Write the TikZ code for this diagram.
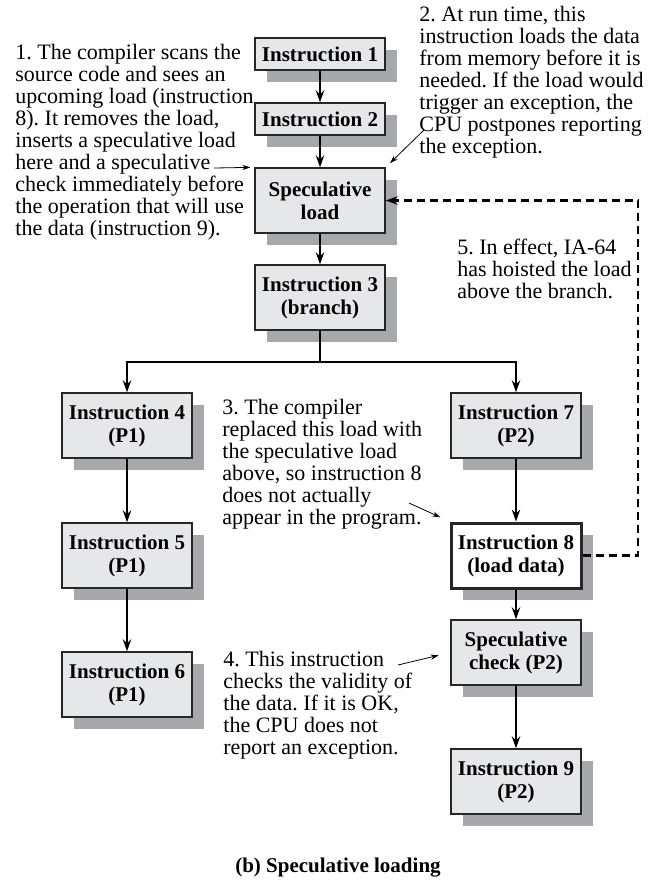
\documentclass[tikz,border=0pt]{standalone}
\usepackage{fontspec}
\setmainfont{Liberation Serif}
\usetikzlibrary{arrows.meta,shadows}
\definecolor{boxfill}{RGB}{230,231,232}
\definecolor{shadowgray}{RGB}{167,168,172}
\lineskiplimit=-10pt
\frenchspacing

\begin{document}
\begin{tikzpicture}[x=0.5pt, y=-0.5pt,
    box/.style = {draw=black!85, fill=boxfill, line width=0.7pt, minimum width=65pt,
        minimum height=16pt, inner sep=1pt, align=center,
        font=\fontsize{10.5}{11.5}\selectfont\bfseries,
        drop shadow={shadow xshift=6pt, shadow yshift=-6pt, fill=shadowgray, opacity=1}},
    tall/.style = {box, minimum height=32.5pt},
    note/.style = {anchor=north west, inner sep=0pt, align=left,
        font=\fontsize{11}{11}\selectfont},
    flow/.style = {line width=0.9pt, -{Stealth[length=6pt, width=4.2pt]}},
    hint/.style = {line width=0.4pt, -{Stealth[length=4pt, width=2.6pt]}},
    hoist/.style = {line width=1.1pt, dash pattern=on 4pt off 2.5pt, -{Stealth[length=6pt, width=4.2pt]}}]
    \useasboundingbox (0,0) rectangle (654,880);

    % main column
    \node[box] (1) at (320,54) {Instruction 1};
    \node[box] (2) [below of=1, node distance=32.5pt] {Instruction 2};
    \node[tall] (load) [below of=2, node distance=40.75pt] {Speculative\\load};
    \node[tall] (3) [below of=load, node distance=48.5pt] {Instruction 3\\(branch)};

    % path P1
    \node[tall] (4) at (127,425.5) {Instruction 4\\(P1)};
    \node[tall] (5) [below of=4, node distance=65pt] {Instruction 5\\(P1)};
    \node[tall] (6) [below of=5, node distance=64.5pt] {Instruction 6\\(P1)};

    % path P2
    \node[tall] (7) [right of=4, node distance=194.5pt] {Instruction 7\\(P2)};
    \node[tall, fill=white, line width=1.5pt] (8) [below of=7, node distance=65pt] {Instruction 8\\(load data)};
    \node[tall] (check) [below of=8, node distance=48.5pt] {Speculative\\check (P2)};
    \node[tall] (9) [below of=check, node distance=64.5pt] {Instruction 9\\(P2)};

    % notes
    \node[note] (n1) at (15,43.5) {1. The compiler scans the\\source code and sees an\\upcoming load (instruction\\8). It removes the load,\\inserts a speculative load\\here and a speculative\\check immediately before\\the operation that will use\\the data (instruction 9).};
    \node[note] (n2) at (419,5.5) {2. At run time, this\\instruction loads the data\\from memory before it is\\needed. If the load would\\trigger an exception, the\\CPU postpones reporting\\the exception.};
    \node[note] (n3) at (222,398.5) {3. The compiler\\replaced this load with\\the speculative load\\above, so instruction 8\\does not actually\\appear in the program.};
    \node[note] (n4) at (223,650.5) {4. This instruction\\checks the validity of\\the data. If it is OK,\\the CPU does not\\report an exception.};
    \node[note] (n5) at (457,238.5) {5. In effect, IA-64\\has hoisted the load\\above the branch.};

    \node[font=\fontsize{10.5}{12}\selectfont\bfseries] (caption) at (338,868) {(b) Speculative loading};

    \coordinate (fork) at (320,362);
    \coordinate (turn) at (638,200.5);
    \coordinate (n1tip) at (214,168);
    \coordinate (n2tip) at (424,130);
    \coordinate (n3tip) at (409,503);
    \coordinate (n4tip) at (398,665);

    \draw[flow] (1) -- (2);
    \draw[flow] (2) -- (load);
    \draw[flow] (load) -- (3);
    \draw[line width=0.9pt] (3) -- (fork);
    \draw[flow] (fork) -| (4);
    \draw[flow] (fork) -| (7);
    \draw[flow] (4) -- (5);
    \draw[flow] (5) -- (6);
    \draw[flow] (7) -- (8);
    \draw[flow] (8) -- (check);
    \draw[flow] (check) -- (9);
    \draw[hoist] (8) -| (turn) -- (load);

    \draw[hint, shorten >=2pt] (n1tip) -- (load.north west);
    \draw[hint, shorten >=3pt] (n2tip) -- (load.north east);
    \draw[hint, shorten >=5pt] (n3tip) -- (8.north west);
    \draw[hint, shorten >=6pt] (n4tip) -- (check.west);

\end{tikzpicture}
\end{document}
